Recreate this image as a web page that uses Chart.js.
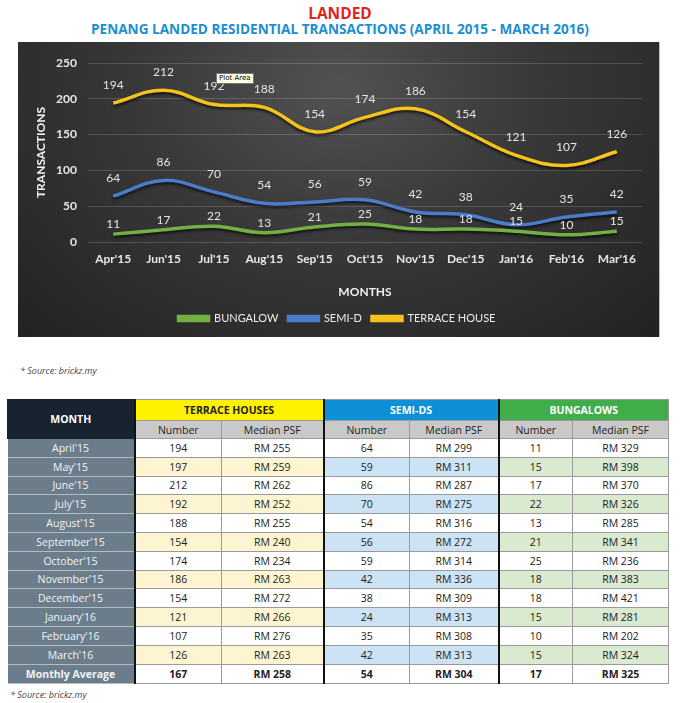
<!DOCTYPE html>
<html>
<head>
<meta charset="utf-8">
<script src="https://cdn.jsdelivr.net/npm/chart.js@4.4.1/dist/chart.umd.min.js"></script>
<style>
  body { margin: 0; width: 680px; height: 703px; background: #fff; position: relative; overflow: hidden; font-family: "Open Sans", sans-serif; }
  #title1 { position: absolute; top: 2px; left: 0; width: 680px; text-align: center; color: #e2231a; font: 700 15.5px "Open Sans", sans-serif; }
  #title2 { position: absolute; top: 19px; left: 0; width: 680px; text-align: center; color: #1b8fd2; font: 700 13.6px "Open Sans", sans-serif; letter-spacing: 0px; }
  #panel { position: absolute; left: 18px; top: 42px; width: 641px; height: 295px;
    background: radial-gradient(ellipse at 50% 15%, #525252 0%, #383838 45%, #222 100%);
    border-right: 1px solid #bbb; }
  #plotTip { position: absolute; left: 216px; top: 73px; padding: 0 2px; height: 9px; line-height: 9px;
    font: 7px "DejaVu Sans", sans-serif; color: #000; background: #ffffe1; border: 1px solid #777; }
  .src { position: absolute; font: italic 9px "Open Sans", sans-serif; color: #444; }
  #tbl { position: absolute; left: 7px; top: 399px; border-collapse: collapse; table-layout: fixed; font: 400 10.5px "Open Sans", sans-serif; color: #222; }
  #tbl td { text-align: center; padding: 0; border: 1px solid #9a9a9a; white-space: nowrap; overflow: hidden; line-height: 12px; }
  #tbl td.mon { background: #6b7d8a; color: #f2f4f6; border-color: #b4bcc3; border-left: none; }
  #tbl td.thick { border-right: 2px solid #111; }
  #tbl tr.avg td { font-weight: 700; }
</style>
</head>
<body>
<div id="title1">LANDED</div>
<div id="title2">PENANG LANDED RESIDENTIAL TRANSACTIONS (APRIL 2015 - MARCH 2016)</div>
<div id="panel"><canvas id="chart" width="641" height="295"></canvas></div>
<div id="plotTip">Plot Area</div>
<div class="src" style="left:20px; top:364px;">* Source: brickz.my</div>
<table id="tbl"></table>
<div class="src" style="left:10px; top:688px;">* Source: brickz.my</div>

<script>
// chart data (May'15 is not plotted in the original chart)
const chartLabels = ["Apr'15", "Jun'15", "Jul'15", "Aug'15", "Sep'15", "Oct'15", "Nov'15", "Dec'15", "Jan'16", "Feb'16", "Mar'16"];
const bungalowCount = [11, 17, 22, 13, 21, 25, 18, 18, 15, 10, 15];
const semiCount = [64, 86, 70, 54, 56, 59, 42, 38, 24, 35, 42];
const terraceCount = [194, 212, 192, 188, 154, 174, 186, 154, 121, 107, 126];
const yTicks = [0, 50, 100, 150, 200, 250];

// table data
const tableMonths = ["April'15", "May'15", "June'15", "July'15", "August'15", "September'15", "October'15", "November'15", "December'15", "January'16", "February'16", "March'16"];
const terraceNum = [194, 197, 212, 192, 188, 154, 174, 186, 154, 121, 107, 126];
const terracePsf = [255, 259, 262, 252, 255, 240, 234, 263, 272, 266, 276, 263];
const semiNum = [64, 59, 86, 70, 54, 56, 59, 42, 38, 24, 35, 42];
const semiPsf = [299, 311, 287, 275, 316, 272, 314, 336, 309, 313, 308, 313];
const bungNum = [11, 15, 17, 22, 13, 21, 25, 18, 18, 15, 10, 15];
const bungPsf = [329, 398, 370, 326, 285, 341, 236, 383, 421, 281, 202, 324];
const averageRow = ["Monthly Average", 167, 258, 54, 304, 17, 325];

// ---- table ----
function buildTable() {
    const tbl = document.getElementById('tbl');
    const widths = [127, 87, 102, 86, 89, 74, 96];
    let html = '<colgroup>' + widths.map(w => `<col style="width:${w}px">`).join('') + '</colgroup>';
    html += '<tr style="height:21px">' +
        '<td rowspan="2" class="thick" style="background:#17232e;color:#fff;font-weight:700;border-color:#17232e;border-right:2px solid #111">MONTH</td>' +
        '<td colspan="2" class="thick" style="background:#fff200;font-weight:700">TERRACE HOUSES</td>' +
        '<td colspan="2" class="thick" style="background:#0f8fd6;color:#fff;font-weight:700">SEMI-DS</td>' +
        '<td colspan="2" style="background:#40ad4a;color:#fff;font-weight:700">BUNGALOWS</td></tr>';
    const sub = '#c9c9c9';
    html += '<tr style="height:18px">' +
        `<td style="background:${sub}">Number</td><td class="thick" style="background:${sub}">Median PSF</td>` +
        `<td style="background:${sub}">Number</td><td class="thick" style="background:${sub}">Median PSF</td>` +
        `<td style="background:${sub}">Number</td><td style="background:${sub}">Median PSF</td></tr>`;
    tableMonths.forEach((m, i) => {
        const odd = i % 2 === 1;
        const ty = odd ? '#fdf5d2' : '#fff';
        const sb = odd ? '#cbe3f5' : '#fff';
        const gb = odd ? '#d9ead1' : '#fff';
        html += '<tr style="height:18.8px">' +
            `<td class="mon thick" style="border-right:2px solid #111">${m}</td>` +
            `<td style="background:${ty}">${terraceNum[i]}</td><td class="thick" style="background:${ty}">RM ${terracePsf[i]}</td>` +
            `<td style="background:${sb}">${semiNum[i]}</td><td class="thick" style="background:${sb}">RM ${semiPsf[i]}</td>` +
            `<td style="background:${gb}">${bungNum[i]}</td><td style="background:${gb}">RM ${bungPsf[i]}</td></tr>`;
    });
    const a = averageRow;
    html += '<tr class="avg" style="height:19.5px">' +
        `<td class="mon thick" style="border-right:2px solid #111">${a[0]}</td>` +
        `<td>${a[1]}</td><td class="thick">RM ${a[2]}</td>` +
        `<td>${a[3]}</td><td class="thick">RM ${a[4]}</td>` +
        `<td>${a[5]}</td><td>RM ${a[6]}</td></tr>`;
    tbl.innerHTML = html;
}
buildTable();

// ---- chart ----
const lineShadow = {
    id: 'lineShadow',
    beforeDatasetDraw(chart) {
        const ctx = chart.ctx;
        ctx.save();
        ctx.shadowColor = 'rgba(0,0,0,0.7)';
        ctx.shadowBlur = 3;
        ctx.shadowOffsetY = 2;
    },
    afterDatasetDraw(chart) {
        chart.ctx.restore();
    }
};

const pointLabels = {
    id: 'pointLabels',
    afterDatasetsDraw(chart) {
        const ctx = chart.ctx;
        ctx.save();
        ctx.font = '12px Lato';
        ctx.fillStyle = '#e4e4e4';
        ctx.textAlign = 'center';
        ctx.textBaseline = 'middle';
        chart.data.datasets.forEach((ds, i) => {
            const meta = chart.getDatasetMeta(i);
            meta.data.forEach((pt, j) => {
                ctx.fillText(ds.data[j], pt.x, pt.y - ds.labelOffset);
            });
        });
        ctx.restore();
    }
};

const ctx = document.getElementById('chart').getContext('2d');
new Chart(ctx, {
    type: 'line',
    data: {
        labels: chartLabels,
        datasets: [{
            label: 'BUNGALOW',
            data: bungalowCount,
            borderColor: '#72b043',
            backgroundColor: '#72b043',
            labelOffset: 10
        }, {
            label: 'SEMI-D',
            data: semiCount,
            borderColor: '#4a7dc9',
            backgroundColor: '#4a7dc9',
            labelOffset: 18
        }, {
            label: 'TERRACE HOUSE',
            data: terraceCount,
            borderColor: '#f6c31c',
            backgroundColor: '#f6c31c',
            labelOffset: 18
        }]
    },
    options: {
        responsive: false,
        animation: false,
        elements: {
            line: { borderWidth: 3.5, tension: 0.4, fill: false },
            point: { radius: 0, hoverRadius: 0 }
        },
        layout: { padding: { left: 14, right: 17, top: 21, bottom: 3 } },
        plugins: {
            tooltip: { enabled: false },
            legend: {
                position: 'bottom',
                labels: {
                    boxWidth: 30,
                    boxHeight: 4,
                    padding: 10,
                    color: '#ececec',
                    font: { family: 'Lato', size: 11 }
                }
            }
        },
        scales: {
            x: {
                offset: true,
                grid: { display: false, drawTicks: false },
                border: { display: false },
                afterFit: s => { s.height = 61; },
                ticks: { color: '#e6e6e6', padding: 10, font: { family: 'Lato', size: 12, weight: 'bold' } },
                title: {
                    display: true,
                    text: 'MONTHS',
                    color: '#f0f0f0',
                    padding: { top: 4, bottom: 4 },
                    font: { family: 'Lato', size: 12, weight: 'bold' }
                }
            },
            y: {
                min: 0,
                max: 250,
                afterFit: s => { s.width = 56; },
                afterBuildTicks: s => { s.ticks = yTicks.map(v => ({ value: v })); },
                grid: { color: 'rgba(255,255,255,0.16)', drawTicks: false },
                border: { display: false },
                ticks: { color: '#e6e6e6', padding: 11, font: { family: 'Lato', size: 12, weight: 'bold' } },
                title: {
                    display: true,
                    text: 'TRANSACTIONS',
                    color: '#f0f0f0',
                    padding: { top: 2, bottom: 2 },
                    font: { family: 'Lato', size: 12, weight: 'bold' }
                }
            }
        }
    },
    plugins: [lineShadow, pointLabels]
});
</script>
</body>
</html>
